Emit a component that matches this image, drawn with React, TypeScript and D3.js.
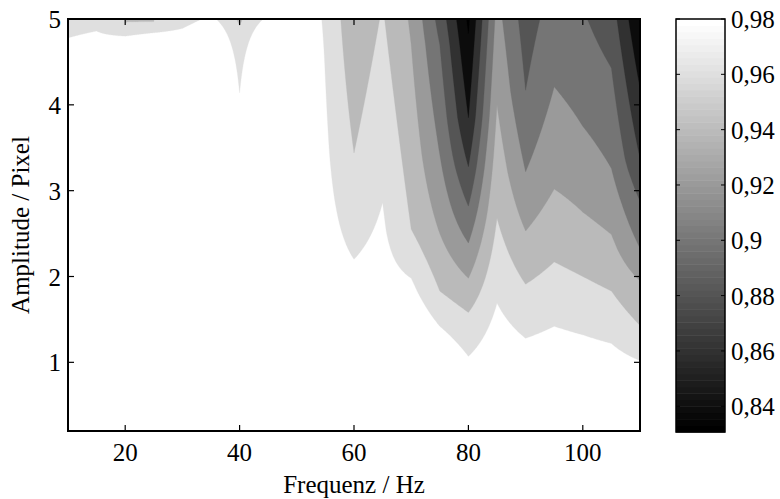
import React from "react";
import * as d3 from "d3";

const W = 780;
const H = 499;
const plot = { left: 68, right: 640, top: 19, bottom: 431 };
const bar = { left: 676, right: 725, top: 19, bottom: 432 };

// grid of the measurement
const freqs = [10, 15, 20, 25, 30, 35, 40, 45, 50, 55, 60, 65, 70, 75, 80, 85, 90, 95, 100, 105, 110];
const xTicks = [20, 40, 60, 80, 100];
const yTicks = [1, 2, 3, 4, 5];
const barTicks = [0.84, 0.86, 0.88, 0.9, 0.92, 0.94, 0.96, 0.98];
const cMin = 0.8307;
const cMax = 0.98;

// amplitude at which the value reaches each contour level, per frequency column
// (values above 5 lie outside the axes)
const edge098 = [4.78, 4.86, 4.8, 4.84, 4.89, 5.05, 4.14, 5.05, 5.9, 4.3, 2.2, 2.86, 1.98, 1.42, 1.07, 1.69, 1.28, 1.42, 1.32, 1.22, 1.02];
const edge096 = [5.3, 5.3, 4.95, 4.97, 5.1, 5.25, 4.92, 5.25, 6.9, 9.5, 3.44, 5.2, 2.55, 1.83, 1.58, 2.68, 1.91, 2.17, 2.0, 1.83, 1.43];
const edge094 = [10, 10, 10, 10, 10, 10, 5.45, 10, 10, 10, 5.52, 7.7, 4.7, 2.5, 1.98, 4.0, 2.53, 3.02, 2.75, 2.49, 1.95];
const edge092 = [10.5, 10.5, 10.5, 10.5, 10.5, 10.5, 10.5, 10.5, 10.5, 10.5, 6.0, 8, 7.0, 3.42, 2.39, 5.5, 3.22, 4.21, 3.75, 3.26, 2.33];
const edge090 = [11, 11, 11, 11, 11, 11, 11, 11, 11, 11, 6.5, 8.5, 7.5, 4.7, 2.82, 6.7, 4.17, 5.65, 5.14, 4.43, 2.88];
const edge088 = [11.5, 11.5, 11.5, 11.5, 11.5, 11.5, 11.5, 11.5, 11.5, 11.5, 7, 9, 8, 5.54, 3.28, 7.0, 6.0, 7.5, 6.5, 5.51, 3.38];
const edge086 = [12, 12, 12, 12, 12, 12, 12, 12, 12, 12, 7.5, 9.5, 8.5, 6.65, 3.85, 7.7, 7, 8, 7.5, 6.3, 4.2];
const edge084 = [12.5, 12.5, 12.5, 12.5, 12.5, 12.5, 12.5, 12.5, 12.5, 12.5, 8, 10, 9, 7.5, 4.83, 8.5, 8, 9, 8.5, 7, 5.02];

const edgeLevels = [0.98, 0.96, 0.94, 0.92, 0.9, 0.88, 0.86, 0.84];
const edgeRows = [edge098, edge096, edge094, edge092, edge090, edge088, edge086, edge084];

const font = "'Liberation Serif', 'Times New Roman', serif";
const fs = 25;

// matlab gray(64) lookup
const grayOf = (v: number) => {
  let idx = Math.floor(((v - cMin) / (cMax - cMin)) * 64);
  idx = Math.max(0, Math.min(63, idx));
  const g = Math.round((idx / 63) * 255);
  return `rgb(${g},${g},${g})`;
};

// value along one column, piecewise linear in amplitude
const columns = freqs.map((_, i) =>
  d3
    .scaleLinear()
    .domain(edgeRows.map((r) => r[i]))
    .range(edgeLevels)
);

// amplitude where the interpolated field crosses level L at frequency f
const crossing = (L: number, f: number) => {
  const i = Math.max(0, Math.min(freqs.length - 2, d3.bisectRight(freqs, f) - 1));
  const t = (f - freqs[i]) / (freqs[i + 1] - freqs[i]);
  const z = (a: number) => (1 - t) * columns[i](a) + t * columns[i + 1](a);
  let lo = -3;
  let hi = 20;
  for (let k = 0; k < 48; k++) {
    const mid = (lo + hi) / 2;
    if (z(mid) > L) lo = mid;
    else hi = mid;
  }
  return (lo + hi) / 2;
};

const fineF = d3.range(0, 801).map((k) => 10 + k * 0.125);

const App = () => {
  const x = d3.scaleLinear().domain([10, 110]).range([plot.left, plot.right]);
  const y = d3.scaleLinear().domain([0.2, 5]).range([plot.bottom, plot.top]);
  const cy = d3.scaleLinear().domain([cMin, cMax]).range([bar.bottom, bar.top]);

  const area = d3
    .area<[number, number]>()
    .x((d) => x(d[0]))
    .y0((d) => y(d[1]))
    .y1(y(14));

  const bands = edgeLevels.map((L) => ({
    level: L,
    fill: grayOf(L - 0.02),
    pts: fineF.map((f) => [f, crossing(L, f)] as [number, number]),
  }));

  const steps = d3.range(64);
  const tick = 6;

  return (
    <svg width={W} height={H} style={{ position: "absolute", left: 0, top: 0 }} fontFamily={font}>
      <defs>
        <clipPath id="plotclip">
          <rect x={plot.left} y={plot.top} width={plot.right - plot.left} height={plot.bottom - plot.top} />
        </clipPath>
      </defs>
      <rect width={W} height={H} fill="#fff" />

      <g clipPath="url(#plotclip)">
        <rect x={plot.left} y={plot.top} width={plot.right - plot.left} height={plot.bottom - plot.top} fill="#fff" />
        {bands.map((b) => (
          <path key={b.level} d={area(b.pts) || ""} fill={b.fill} stroke={b.fill} strokeWidth={0.3} />
        ))}
      </g>

      {/* axes box */}
      <rect x={plot.left} y={plot.top} width={plot.right - plot.left} height={plot.bottom - plot.top} fill="none" stroke="#000" strokeWidth={2} />
      {xTicks.map((t) => (
        <g key={"x" + t}>
          <line x1={x(t)} x2={x(t)} y1={plot.bottom} y2={plot.bottom - tick} stroke="#000" strokeWidth={1.2} />
          <line x1={x(t)} x2={x(t)} y1={plot.top} y2={plot.top + tick} stroke="#000" strokeWidth={1.2} />
          <text x={x(t)} y={plot.bottom + 30} fontSize={fs} textAnchor="middle">
            {t}
          </text>
        </g>
      ))}
      {yTicks.map((t) => (
        <g key={"y" + t}>
          <line x1={plot.left} x2={plot.left + tick} y1={y(t)} y2={y(t)} stroke="#000" strokeWidth={1.2} />
          <line x1={plot.right} x2={plot.right - tick} y1={y(t)} y2={y(t)} stroke="#000" strokeWidth={1.2} />
          <text x={plot.left - 7} y={y(t) + 9} fontSize={fs} textAnchor="end">
            {t}
          </text>
        </g>
      ))}
      <text x={(plot.left + plot.right) / 2} y={493} fontSize={fs} textAnchor="middle">
        Frequenz / Hz
      </text>
      <text transform={`translate(29, ${(plot.top + plot.bottom) / 2}) rotate(-90)`} fontSize={fs} textAnchor="middle">
        Amplitude / Pixel
      </text>

      {/* colorbar */}
      {steps.map((k) => {
        const v0 = cMin + ((cMax - cMin) * k) / 64;
        const v1 = cMin + ((cMax - cMin) * (k + 1)) / 64;
        const g = Math.round((k / 63) * 255);
        return (
          <rect
            key={"c" + k}
            x={bar.left}
            y={cy(v1)}
            width={bar.right - bar.left}
            height={cy(v0) - cy(v1) + 0.5}
            fill={`rgb(${g},${g},${g})`}
          />
        );
      })}
      <rect x={bar.left} y={bar.top} width={bar.right - bar.left} height={bar.bottom - bar.top} fill="none" stroke="#000" strokeWidth={1.5} />
      {barTicks.map((t) => (
        <g key={"b" + t}>
          <line x1={bar.left} x2={bar.left + 4} y1={cy(t)} y2={cy(t)} stroke="#000" strokeWidth={1} />
          <line x1={bar.right} x2={bar.right - 4} y1={cy(t)} y2={cy(t)} stroke="#000" strokeWidth={1} />
          <text x={bar.right + 6} y={cy(t) + 9} fontSize={fs}>
            {String(t).replace(".", ",")}
          </text>
        </g>
      ))}
    </svg>
  );
};

export default App;
